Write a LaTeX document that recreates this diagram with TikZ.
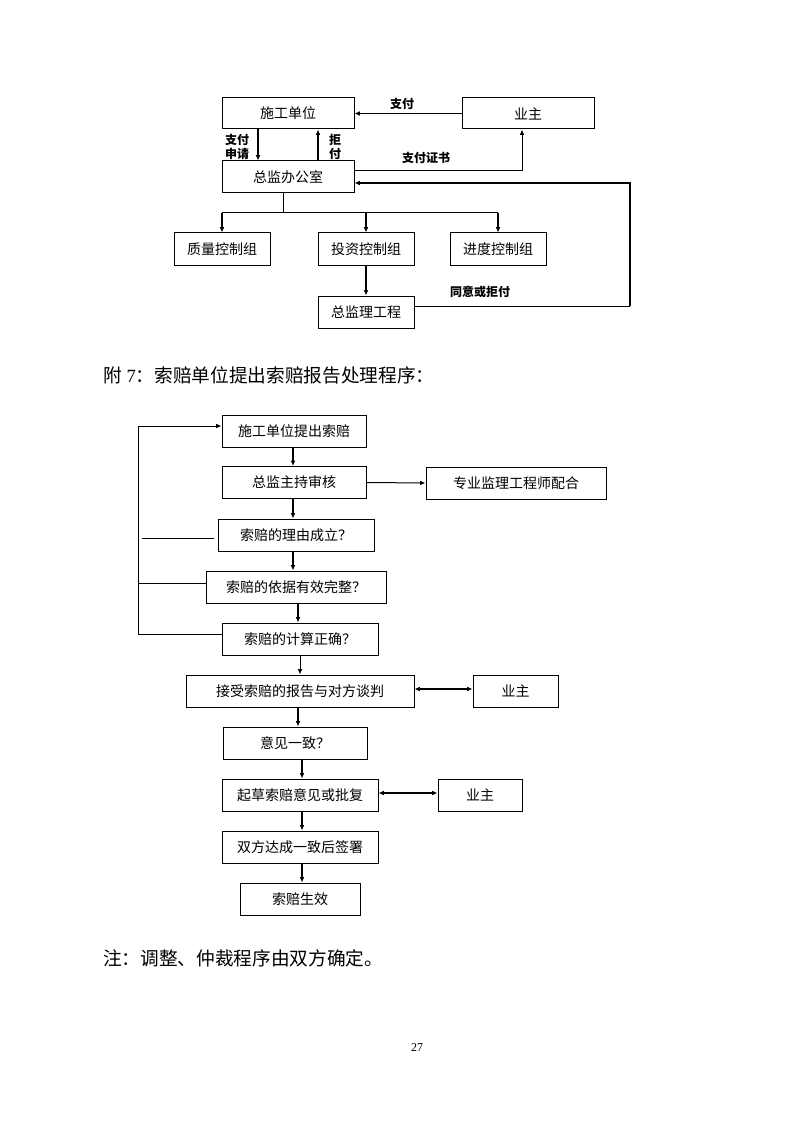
\documentclass[tikz,border=0pt]{standalone}
\usepackage{fontspec}
\setmainfont{Liberation Serif}
\newfontfamily\cjk{Noto Sans CJK SC}
\usetikzlibrary{arrows.meta}

\begin{document}
\begin{tikzpicture}[x=0.75pt, y=-0.75pt,
    box/.style={rectangle, draw, line width=0.75pt, inner sep=0pt, minimum height=32*0.75pt, font=\cjk\fontsize{10.5pt}{12pt}\selectfont},
    boxw/.style={minimum width=#1*0.75pt},
    lab/.style={font=\cjk\bfseries\fontsize{9pt}{10.5pt}\selectfont, align=center, inner sep=0pt},
    txt/.style={anchor=west, inner sep=0pt, font=\fontsize{14pt}{16pt}\selectfont},
    thin line/.style={line width=0.75pt},
    thick line/.style={line width=1.5pt},
    >={Latex[length=4pt,width=3.5pt]}]
    \fill[white] (0,0) rectangle (794,1123);
    \useasboundingbox (0,0) rectangle (794,1123);

    %Nodes:
    \node[box, boxw=132, minimum height=31*0.75pt] (sgdw) at (288,113.5) {施工单位};
    \node[box, boxw=132, minimum height=31*0.75pt] (yz) at (528,113.5) {业主};
    \node[box, boxw=132] (zjbgs) at (288,177) {总监办公室};
    \node[box, boxw=96] (zlkz) at (222,249) {质量控制组};
    \node[box, boxw=96] (tzkz) at (366,249) {投资控制组};
    \node[box, boxw=96] (jdkz) at (498,249) {进度控制组};
    \node[box, boxw=96] (zjlgc) at (366,312) {总监理工程};
    \node[lab] (zf) at (402,104) {支付};
    \node[lab] (zfsq) at (237,147) {支付\\申请};
    \node[lab] (jf) at (335,147) {拒\\付};
    \node[lab] (zfzs) at (426,158) {支付证书};
    \node[lab] (tyjf) at (480,292) {同意或拒付};
    \coordinate (fork) at (283,213);
    \coordinate (turn) at (630,306);

    %Edges:
    \draw[->, thin line] (yz.west) -- (sgdw.east);
    \draw[->, thick line] ([xshift=-22.5pt]sgdw.south) -- ([xshift=-22.5pt]zjbgs.north);
    \draw[->, thick line] ([xshift=22.5pt]zjbgs.north) -- ([xshift=22.5pt]sgdw.south);
    \draw[->, thin line] ([yshift=4.5pt]zjbgs.east) -| ([xshift=-4.5pt]yz.south);
    \draw[thin line] (turn -| zjlgc.east) -- (turn);
    \draw[->, thick line] (turn) |- ([yshift=-4.5pt]zjbgs.east);
    \draw[thin line] (fork |- zjbgs.south) -- (fork);
    \draw[thin line] (fork -| zlkz) -- (fork -| jdkz);
    \foreach \g in {zlkz, tzkz, jdkz}
        \draw[->, thick line] (fork -| \g) -- (\g.north);
    \draw[->, thick line] (tzkz.south) -- (zjlgc.north);

    \node[txt] (fu7) at (103,375) {{\cjk 附} 7{\cjk ：索赔单位提出索赔报告处理程序：}};

    %Nodes:
    \node[box, boxw=144] (tcsp) at (294,431.5) {施工单位提出索赔};
    \node[box, boxw=144] (zjsh) at (294,482.5) {总监主持审核};
    \node[box, boxw=180] (zyjl) at (516,483) {专业监理工程师配合};
    \node[box, boxw=156] (lycl) at (296,535) {索赔的理由成立？};
    \node[box, boxw=180] (yjwz) at (296,587) {索赔的依据有效完整？};
    \node[box, boxw=156] (jszq) at (300,639) {索赔的计算正确？};
    \node[box, boxw=228] (jstp) at (300,691) {接受索赔的报告与对方谈判};
    \node[box, boxw=85] (yz2) at (515.5,691) {业主};
    \node[box, boxw=144] (yjyz) at (295,743) {意见一致？};
    \node[box, boxw=156] (qcpf) at (300,795) {起草索赔意见或批复};
    \node[box, boxw=84] (yz3) at (480,795) {业主};
    \node[box, boxw=156] (sfqs) at (300,847) {双方达成一致后签署};
    \node[box, boxw=120] (spsx) at (300,899) {索赔生效};
    \coordinate (back) at (138,426);

    %Edges:
    \foreach \a/\b/\x in {tcsp/zjsh/293, zjsh/lycl/293, lycl/yjwz/293, yjwz/jszq/298,
                          jstp/yjyz/298, yjyz/qcpf/302, qcpf/sfqs/302, sfqs/spsx/302}
        \draw[->, thick line] (\a.south -| \x,0) -- (\b.north -| \x,0);
    \draw[->, thin line] (jszq.south -| 300,0) -- (jstp.north -| 300,0);
    \draw[->, thin line] (zjsh.east) -- (zyjl.west);
    \draw[<->, thick line] ([yshift=1.5pt]jstp.east) -- ([yshift=1.5pt]yz2.west);
    \draw[<->, thick line] ([yshift=1.5pt]qcpf.east) -- ([yshift=1.5pt]yz3.west);
    \draw[->, thin line] ([yshift=3.75pt]jszq.west) -| (back) -- (back -| tcsp.west);
    \draw[thin line] ([yshift=3pt]yjwz.west) -- ([yshift=3pt]yjwz.west -| back);
    \draw[thin line] ([xshift=-3pt, yshift=-2.25pt]lycl.west) -- ([yshift=-2.25pt]lycl.west -| 142,0);

    \node[txt] (note) at (103,958) {{\cjk 注：调整、仲裁程序由双方确定。}};
    \node[inner sep=0pt, font=\fontsize{9pt}{10pt}\selectfont] (pgno) at (417,1048) {27};
\end{tikzpicture}
\end{document}
